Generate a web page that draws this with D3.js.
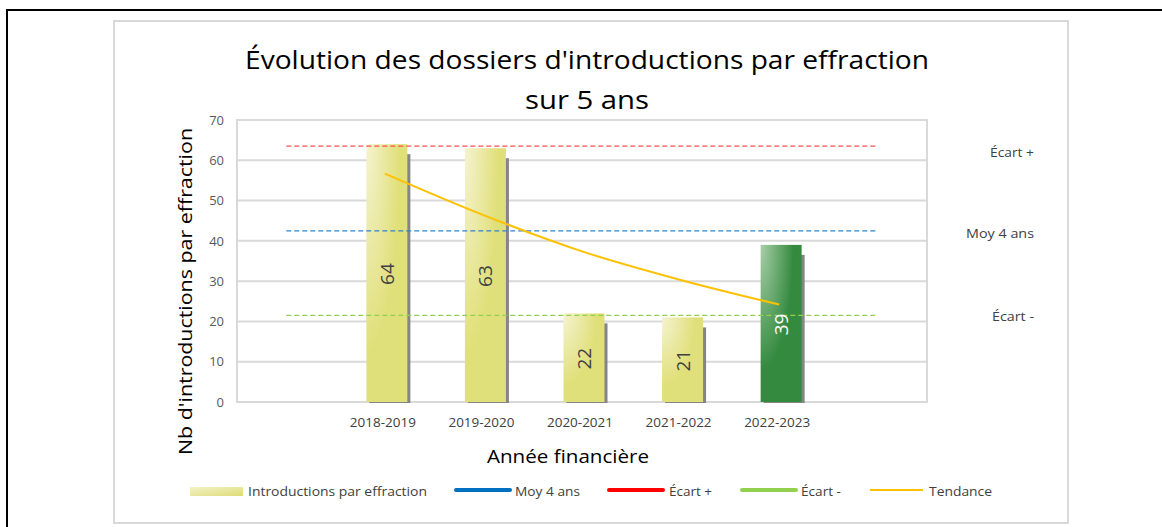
<!DOCTYPE html>
<html>
<head>
<meta charset="utf-8">
<script src="https://cdn.jsdelivr.net/npm/d3@7"></script>
<style>
  html, body { margin: 0; padding: 0; background: #fff; }
  svg text { font-family: "Open Sans", Lato, sans-serif; }
</style>
</head>
<body>
<svg id="chart" width="1162" height="527"></svg>
<script>
// ---------- data ----------
const categories = ["2018-2019", "2019-2020", "2020-2021", "2021-2022", "2022-2023"];
const values = [64, 63, 22, 21, 39];
const trend = [56.7, 46.4, 37.4, 30.3, 24.2];
const refNames = ["Écart +", "Moy 4 ans", "Écart -"];
const refValues = [63.5, 42.5, 21.5];
const yTicks = [0, 10, 20, 30, 40, 50, 60, 70];
const legendNames = ["Introductions par effraction", "Moy 4 ans", "Écart +", "Écart -", "Tendance"];
const titleLines = ["Évolution des dossiers d'introductions par effraction", "sur 5 ans"];
const xTitle = "Année financière";
const yTitle = "Nb d'introductions par effraction";

// ---------- styles / layout ----------
const refColors = ["#ff4f4f", "#2a84d8", "#92d050"];
const refLabelDy = [11, 7, 6];
const refLabelLen = [44, 68, 42];
const titleLen = [684, 124];
const legX = [190, 455, 608, 741, 870];
const legTextX = [248, 515, 669, 801, 929];
const legTextLen = [179, 65, 43, 40, 63];
const legColors = ["", "#0070c0", "#ff0000", "#92d050", "#ffc000"];

const svg = d3.select("#chart");
const plot = { left: 237, right: 927, top: 120, bottom: 402 };

// outer black frame & inner gray frame
svg.append("rect").attr("x", 7).attr("y", 10).attr("width", 1170).attr("height", 530)
  .attr("fill", "none").attr("stroke", "#000").attr("stroke-width", 2);
svg.append("rect").attr("x", 114).attr("y", 21).attr("width", 954).attr("height", 502)
  .attr("fill", "#fff").attr("stroke", "#d9d9d9").attr("stroke-width", 2);

// gradients
const defs = svg.append("defs");
function radial(id, c0, c1) {
  const g = defs.append("radialGradient").attr("id", id)
    .attr("cx", 0).attr("cy", 0).attr("r", 1).attr("fx", 0).attr("fy", 0);
  g.append("stop").attr("offset", "0%").attr("stop-color", c0);
  g.append("stop").attr("offset", "80%").attr("stop-color", c1);
  g.append("stop").attr("offset", "100%").attr("stop-color", c1);
}
radial("gYellow", "#f5f3d0", "#e0e07b");
radial("gGreen", "#a8cfa8", "#348a3e");
const lg = defs.append("linearGradient").attr("id", "gLegend")
  .attr("x1", 0).attr("y1", 0).attr("x2", 1).attr("y2", 1);
lg.append("stop").attr("offset", "0%").attr("stop-color", "#f3f1c6");
lg.append("stop").attr("offset", "100%").attr("stop-color", "#dedd78");

// scales
const domain = ["__l", ...categories, "__r"];
const x = d3.scaleBand().domain(domain).range([plot.left, plot.right]).paddingInner(0).paddingOuter(0);
const y = d3.scaleLinear().domain([0, 70]).range([plot.bottom, plot.top]);
const bw = x.bandwidth();
const cx = c => x(c) + bw / 2;

// gridlines
svg.append("g").selectAll("line").data(yTicks).join("line")
  .attr("x1", plot.left).attr("x2", plot.right)
  .attr("y1", d => y(d)).attr("y2", d => y(d))
  .attr("stroke", "#d9d9d9").attr("stroke-width", 2);
[plot.left, plot.right].forEach(px => {
  svg.append("line").attr("x1", px).attr("x2", px).attr("y1", plot.top - 1).attr("y2", plot.bottom + 1)
    .attr("stroke", "#d9d9d9").attr("stroke-width", 2);
});

// y axis
const yAxis = d3.axisLeft(y).tickValues(yTicks).tickSize(0).tickPadding(13);
const yg = svg.append("g").attr("transform", `translate(${plot.left},0)`).call(yAxis);
yg.select(".domain").remove();
yg.selectAll("text").attr("font-size", 13).attr("fill", "#595959").attr("font-family", "'Open Sans', sans-serif");

// x axis
const xAxis = d3.axisBottom(x).tickValues(categories).tickSize(0).tickPadding(16);
const xg = svg.append("g").attr("transform", `translate(0,${plot.bottom})`).call(xAxis);
xg.select(".domain").remove();
xg.selectAll("text").attr("font-size", 12.5).attr("fill", "#404040").attr("font-family", "'Open Sans', sans-serif")
  .attr("textLength", 66).attr("lengthAdjust", "spacingAndGlyphs").attr("dx", -2);

// bars
const barW = 41;
const bars = svg.append("g");
bars.selectAll("rect.shadow").data(values).join("rect").attr("class", "shadow")
  .attr("x", (d, i) => cx(categories[i]) - barW / 2 + 2 + 3)
  .attr("y", d => y(d) + 10)
  .attr("width", barW)
  .attr("height", d => plot.bottom - y(d) - 9)
  .attr("fill", "#858585");
bars.selectAll("rect.bar").data(values).join("rect").attr("class", "bar")
  .attr("x", (d, i) => cx(categories[i]) - barW / 2 + 2)
  .attr("y", d => y(d))
  .attr("width", barW)
  .attr("height", d => plot.bottom - y(d))
  .attr("fill", (d, i) => i === values.length - 1 ? "url(#gGreen)" : "url(#gYellow)");

// reference dashed lines
svg.append("g").selectAll("line").data(refValues).join("line")
  .attr("x1", cx("__l")).attr("x2", cx("__r"))
  .attr("y1", d => y(d)).attr("y2", d => y(d))
  .attr("stroke", (d, i) => refColors[i]).attr("stroke-width", 1.3)
  .attr("stroke-dasharray", "5,3");

// trend line
const line = d3.line().x((d, i) => cx(categories[i])).y(d => y(d)).curve(d3.curveMonotoneX);
svg.append("path").datum(trend).attr("d", line)
  .attr("fill", "none").attr("stroke", "#ffc000").attr("stroke-width", 2);

// bar value labels
svg.append("g").selectAll("text").data(values).join("text")
  .attr("transform", (d, i) => `translate(${cx(categories[i]) + 2 + 7},${(y(d) + plot.bottom) / 2 + 1}) rotate(-90)`)
  .attr("text-anchor", "middle")
  .attr("font-size", 19)
  .attr("fill", (d, i) => i === values.length - 1 ? "#ffffff" : "#404040")
  .text(d => d);

// right-side reference labels
svg.append("g").selectAll("text").data(refNames).join("text")
  .attr("x", 1034).attr("y", (d, i) => y(refValues[i]) + refLabelDy[i])
  .attr("text-anchor", "end").attr("font-size", 13).attr("fill", "#404040")
  .attr("textLength", (d, i) => refLabelLen[i]).attr("lengthAdjust", "spacingAndGlyphs")
  .text(d => d);

// title
svg.append("g").selectAll("text").data(titleLines).join("text")
  .attr("x", 587).attr("y", (d, i) => 69 + i * 40)
  .attr("text-anchor", "middle").attr("font-size", 26).attr("fill", "#000")
  .attr("textLength", (d, i) => titleLen[i]).attr("lengthAdjust", "spacingAndGlyphs")
  .text(d => d);

// axis titles
svg.append("text").attr("x", 568).attr("y", 463).attr("text-anchor", "middle")
  .attr("font-size", 19).attr("fill", "#000")
  .attr("textLength", 162).attr("lengthAdjust", "spacingAndGlyphs").text(xTitle);
svg.append("text").attr("transform", `translate(192,291.5) rotate(-90)`).attr("text-anchor", "middle")
  .attr("font-size", 19).attr("fill", "#000")
  .attr("textLength", 327).attr("lengthAdjust", "spacingAndGlyphs").text(yTitle);

// legend
const leg = svg.append("g");
legendNames.forEach((name, i) => {
  const lx = legX[i];
  if (i === 0) {
    leg.append("rect").attr("x", lx).attr("y", 487).attr("width", 53).attr("height", 9).attr("fill", "url(#gLegend)");
  } else if (i < 4) {
    leg.append("line").attr("x1", lx + 1).attr("x2", lx + 55).attr("y1", 490).attr("y2", 490)
      .attr("stroke", legColors[i]).attr("stroke-width", 4).attr("stroke-linecap", "round");
  } else {
    leg.append("line").attr("x1", lx).attr("x2", lx + 53).attr("y1", 490).attr("y2", 490)
      .attr("stroke", legColors[i]).attr("stroke-width", 2);
  }
  leg.append("text").attr("x", legTextX[i]).attr("y", 496)
    .attr("font-size", 13).attr("fill", "#404040")
    .attr("textLength", legTextLen[i]).attr("lengthAdjust", "spacingAndGlyphs")
    .text(name);
});
</script>
</body>
</html>
